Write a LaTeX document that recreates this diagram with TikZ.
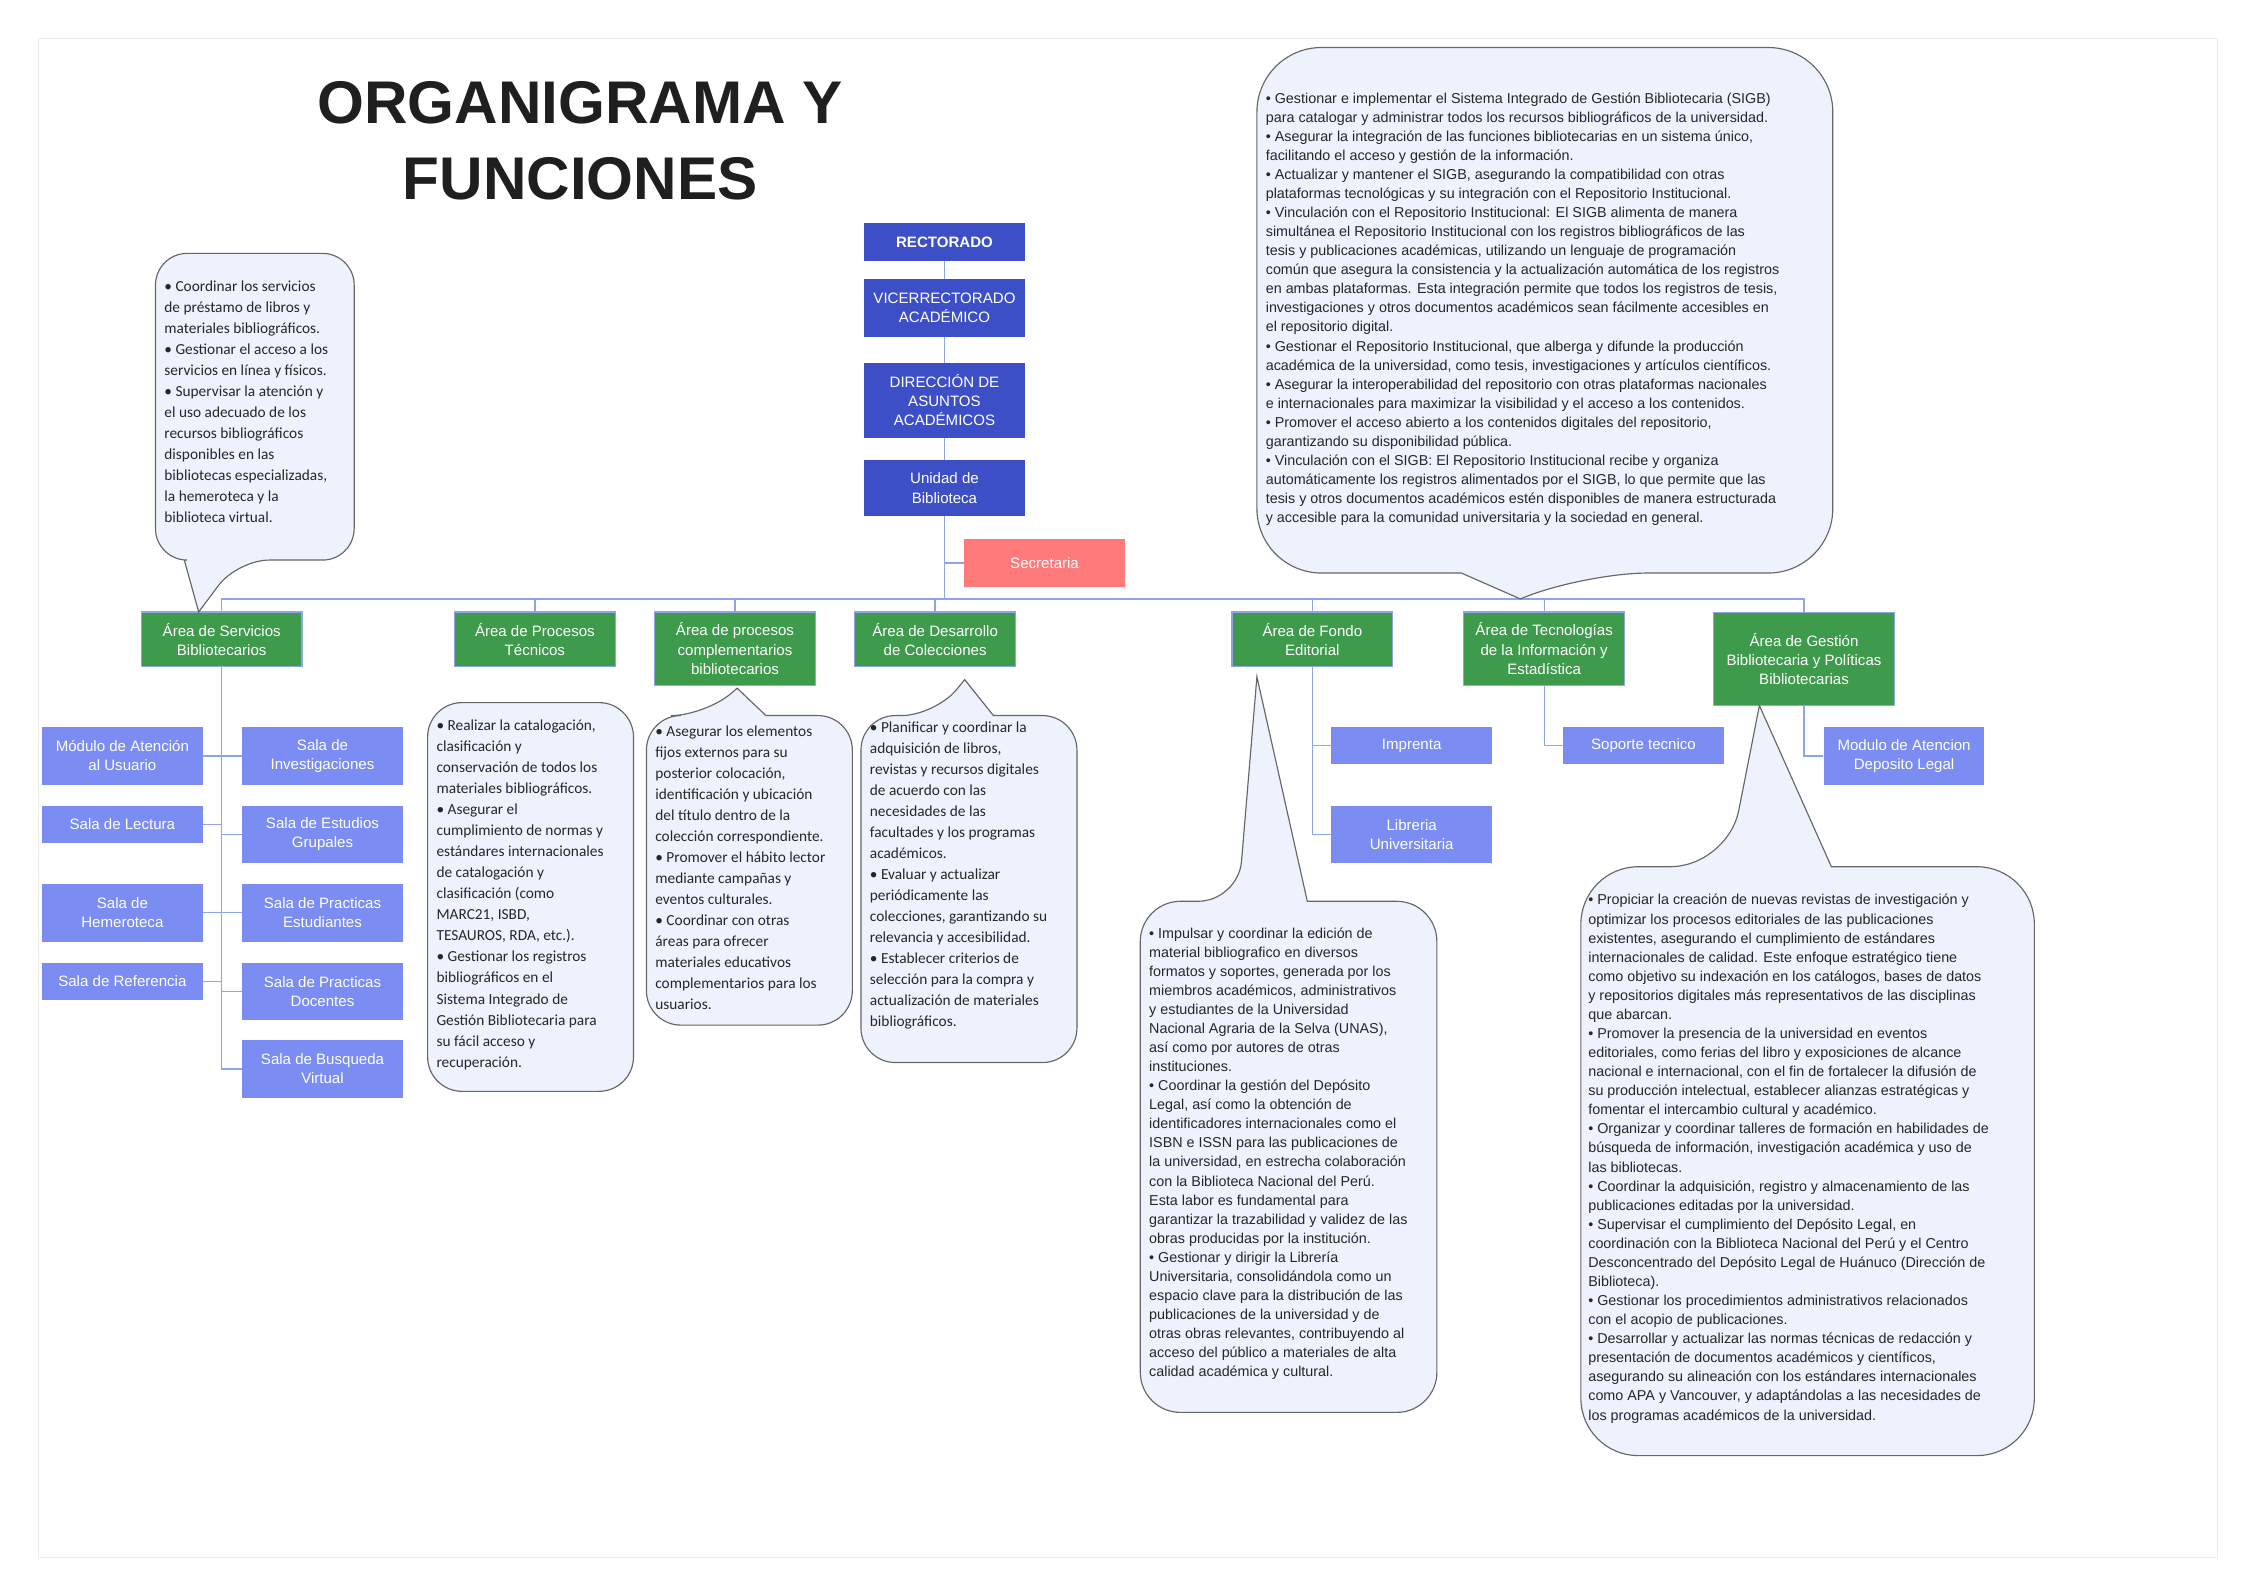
\documentclass[tikz,border=0pt]{standalone}
\usepackage{fontspec}
\setmainfont{Liberation Sans}
\newfontfamily\carl{Carlito}
\usetikzlibrary{positioning}
\definecolor{dblue}{HTML}{3D4FC7}
\definecolor{lblue}{HTML}{7B8DF2}
\definecolor{grn}{HTML}{3D9B4B}
\definecolor{conc}{HTML}{8EA6E8}
\definecolor{cofill}{HTML}{EEF2FD}
\definecolor{salmon}{HTML}{FF7B7B}
\tikzset{
  box/.style={draw=none,text=white,align=center,inner sep=1pt,minimum width=112,font={\fontsize{10.5}{13.3}\selectfont}},
  top/.style={box,fill=dblue},
  gr/.style={box,fill=grn,draw=conc,line width=0.8},
  lb/.style={box,fill=lblue},
  conn/.style={draw=conc,line width=0.9},
  co/.style={fill=cofill,draw=black!60,line width=0.8},
  cta/.style={anchor=north west,inner sep=0,align=left,text=black!85,font={\fontsize{10}{13.3}\selectfont}},
  ctc/.style={anchor=north west,inner sep=0,align=left,text=black!85,font={\carl\fontsize{10.7}{14.65}\selectfont}},
}
\begin{document}
\begin{tikzpicture}[x=1bp,y=-1bp]
\useasboundingbox (0,0) rectangle (1560,1103);
\draw[black!8,line width=0.6] (27,27) rectangle (1540,1082);
\node[font={\fontsize{42}{53}\selectfont\bfseries},text=black!88,align=center] (title) at (403,98) {ORGANIGRAMA Y\\FUNCIONES};

% top chain
\node[top,minimum height=26,font={\fontsize{10.5}{13.3}\selectfont\bfseries}] (rec) at (656,168) {RECTORADO};
\node[top,minimum height=40] (vic) at (656,214) {VICERRECTORADO\\ACADÉMICO};
\node[top,minimum height=52] (dir) at (656,278) {DIRECCIÓN DE\\ASUNTOS\\ACADÉMICOS};
\node[top,minimum height=39] (uni) at (656,339) {Unidad de\\Biblioteca};
\node[box,fill=salmon,minimum height=34] (sec) at (725.5,391) {Secretaria};
\draw[conn] (rec) -- (vic); \draw[conn] (vic) -- (dir); \draw[conn] (dir) -- (uni);
\coordinate (bus) at (656,416);
\draw[conn] (uni.south) -- (bus);
\draw[conn] (uni.south |- sec.west) -- (sec.west);

% areas
\node[gr,minimum height=38] (ser) at (154,444) {Área de Servicios\\Bibliotecarios};
\node[gr,minimum height=38] (pt) at (371.5,444) {Área de Procesos\\Técnicos};
\node[gr,minimum height=51] (pc) at (510.5,450.5) {Área de procesos\\complementarios\\bibliotecarios};
\node[gr,minimum height=38] (dc) at (649.5,444) {Área de Desarrollo\\de Colecciones};
\node[gr,minimum height=38] (fe) at (911.5,444) {Área de Fondo\\Editorial};
\node[gr,minimum height=51] (ti) at (1072.5,450.5) {Área de Tecnologías\\de la Información y\\Estadística};
\node[gr,minimum height=65,minimum width=126] (ge) at (1253,457.5) {Área de Gestión\\Bibliotecaria y Políticas\\Bibliotecarias};
\foreach \n in {ser,pt,pc,dc,fe,ti,ge} \draw[conn] (bus) -| (\n.north);

% servicios
\node[lb,minimum height=40] (mau) at (85,525) {Módulo de Atención\\al Usuario};
\node[lb,minimum height=26] (sl) at (85,572.5) {Sala de Lectura};
\node[lb,minimum height=40] (sh) at (85,634) {Sala de\\Hemeroteca};
\node[lb,minimum height=26] (sr) at (85,681.5) {Sala de Referencia};
\node[lb,minimum height=40] (si) at (224,525) {Sala de\\Investigaciones};
\node[lb,minimum height=40] (seg) at (224,579.5) {Sala de Estudios\\Grupales};
\node[lb,minimum height=40] (spe) at (224,634) {Sala de Practicas\\Estudiantes};
\node[lb,minimum height=40] (spd) at (224,688.5) {Sala de Practicas\\Docentes};
\node[lb,minimum height=40] (sbv) at (224,742.5) {Sala de Busqueda\\Virtual};
\draw[conn] (ser.south) |- (sbv.west);
\foreach \n in {mau,sl,sh,sr} \draw[conn] (\n.east) -- (\n.east -| ser.south);
\foreach \n in {si,seg,spe,spd} \draw[conn] (\n.west) -- (\n.west -| ser.south);

% fondo editorial
\node[lb,minimum height=26] (imp) at (980.5,518) {Imprenta};
\node[lb,minimum height=40] (lib) at (980.5,579.5) {Libreria\\Universitaria};
\draw[conn] (fe.south) |- (lib.west); \draw[conn] (fe.south |- imp.west) -- (imp.west);
\node[lb,minimum height=26] (sop) at (1141.5,518) {Soporte tecnico};
\draw[conn] (ti.south) |- (sop.west);
\node[lb,minimum height=40] (dep) at (1322.5,525) {Modulo de Atencion\\Deposito Legal};
\draw[conn] (ge.south) |- (dep.west);

% callouts
% A (bottom pointer)
\draw[co] (165,389) [sharp corners] -- (138,425) -- (128,389) [rounded corners=22] -- (108,389) -- (108,176) -- (246,176) -- (246,389) -- cycle;
\node[ctc] (ta) at (114,195) {• Coordinar los servicios\\de préstamo de libros y\\materiales bibliográficos.\\• Gestionar el acceso a los\\servicios en línea y físicos.\\• Supervisar la atención y\\el uso adecuado de los\\recursos bibliográficos\\disponibles en las\\bibliotecas especializadas,\\la hemeroteca y la\\biblioteca virtual.};
% B
\draw[co,rounded corners=24] (297,488) rectangle (440,758);
\node[ctc] (tb) at (303,500) {• Realizar la catalogación,\\clasificación y\\conservación de todos los\\materiales bibliográficos.\\• Asegurar el\\cumplimiento de normas y\\estándares internacionales\\de catalogación y\\clasificación (como\\MARC21, ISBD,\\TESAUROS, RDA, etc.).\\• Gestionar los registros\\bibliográficos en el\\Sistema Integrado de\\Gestión Bibliotecaria para\\su fácil acceso y\\recuperación.};
% C
\draw[co] (490,497) [sharp corners] -- (512,478) -- (532,497) [rounded corners=24] -- (592,497) -- (592,712) -- (449,712) -- (449,497) -- cycle;
\node[ctc] (tc) at (455,504) {• Asegurar los elementos\\fijos externos para su\\posterior colocación,\\identificación y ubicación\\del título dentro de la\\colección correspondiente.\\• Promover el hábito lector\\mediante campañas y\\eventos culturales.\\• Coordinar con otras\\áreas para ofrecer\\materiales educativos\\complementarios para los\\usuarios.};
% D
\draw[co] (650,497) [sharp corners] -- (670,472) -- (690,497) [rounded corners=24] -- (748,497) -- (748,738) -- (598,738) -- (598,497) -- cycle;
\node[ctc] (td) at (604,501) {• Planificar y coordinar la\\adquisición de libros,\\revistas y recursos digitales\\de acuerdo con las\\necesidades de las\\facultades y los programas\\académicos.\\• Evaluar y actualizar\\periódicamente las\\colecciones, garantizando su\\relevancia y accesibilidad.\\• Establecer criterios de\\selección para la compra y\\actualización de materiales\\bibliográficos.};
% E
\draw[co] (860,626) [sharp corners] -- (873,470) -- (908,626) [rounded corners=28] -- (998,626) -- (998,981) -- (792,981) -- (792,626) -- cycle;
\node[cta] (te) at (798,644) {• Impulsar y coordinar la edición de\\material bibliografico en diversos\\formatos y soportes, generada por los\\miembros académicos, administrativos\\y estudiantes de la Universidad\\Nacional Agraria de la Selva (UNAS),\\así como por autores de otras\\instituciones.\\• Coordinar la gestión del Depósito\\Legal, así como la obtención de\\identificadores internacionales como el\\ISBN e ISSN para las publicaciones de\\la universidad, en estrecha colaboración\\con la Biblioteca Nacional del Perú.\\Esta labor es fundamental para\\garantizar la trazabilidad y validez de las\\obras producidas por la institución.\\• Gestionar y dirigir la Librería\\Universitaria, consolidándola como un\\espacio clave para la distribución de las\\publicaciones de la universidad y de\\otras obras relevantes, contribuyendo al\\acceso del público a materiales de alta\\calidad académica y cultural.};
% F (bottom pointer)
\draw[co] (1100,398) [sharp corners] -- (1056,416) -- (1015,398) [rounded corners=45] -- (873,398) -- (873,33) -- (1273,33) -- (1273,398) -- cycle;
\node[cta] (tf) at (879,64) {• Gestionar e implementar el Sistema Integrado de Gestión Bibliotecaria (SIGB)\\para catalogar y administrar todos los recursos bibliográficos de la universidad.\\• Asegurar la integración de las funciones bibliotecarias en un sistema único,\\facilitando el acceso y gestión de la información.\\• Actualizar y mantener el SIGB, asegurando la compatibilidad con otras\\plataformas tecnológicas y su integración con el Repositorio Institucional.\\• Vinculación con el Repositorio Institucional: El SIGB alimenta de manera\\simultánea el Repositorio Institucional con los registros bibliográficos de las\\tesis y publicaciones académicas, utilizando un lenguaje de programación\\común que asegura la consistencia y la actualización automática de los registros\\en ambas plataformas. Esta integración permite que todos los registros de tesis,\\investigaciones y otros documentos académicos sean fácilmente accesibles en\\el repositorio digital.\\• Gestionar el Repositorio Institucional, que alberga y difunde la producción\\académica de la universidad, como tesis, investigaciones y artículos científicos.\\• Asegurar la interoperabilidad del repositorio con otras plataformas nacionales\\e internacionales para maximizar la visibilidad y el acceso a los contenidos.\\• Promover el acceso abierto a los contenidos digitales del repositorio,\\garantizando su disponibilidad pública.\\• Vinculación con el SIGB: El Repositorio Institucional recibe y organiza\\automáticamente los registros alimentados por el SIGB, lo que permite que las\\tesis y otros documentos académicos estén disponibles de manera estructurada\\y accesible para la comunidad universitaria y la sociedad en general.};
% G
\draw[co] (1200,602) [sharp corners] -- (1222,490) -- (1272,602) [rounded corners=40] -- (1413,602) -- (1413,1011) -- (1098,1011) -- (1098,602) -- cycle;
\node[cta] (tg) at (1103,621) {• Propiciar la creación de nuevas revistas de investigación y\\optimizar los procesos editoriales de las publicaciones\\existentes, asegurando el cumplimiento de estándares\\internacionales de calidad. Este enfoque estratégico tiene\\como objetivo su indexación en los catálogos, bases de datos\\y repositorios digitales más representativos de las disciplinas\\que abarcan.\\• Promover la presencia de la universidad en eventos\\editoriales, como ferias del libro y exposiciones de alcance\\nacional e internacional, con el fin de fortalecer la difusión de\\su producción intelectual, establecer alianzas estratégicas y\\fomentar el intercambio cultural y académico.\\• Organizar y coordinar talleres de formación en habilidades de\\búsqueda de información, investigación académica y uso de\\las bibliotecas.\\• Coordinar la adquisición, registro y almacenamiento de las\\publicaciones editadas por la universidad.\\• Supervisar el cumplimiento del Depósito Legal, en\\coordinación con la Biblioteca Nacional del Perú y el Centro\\Desconcentrado del Depósito Legal de Huánuco (Dirección de\\Biblioteca).\\• Gestionar los procedimientos administrativos relacionados\\con el acopio de publicaciones.\\• Desarrollar y actualizar las normas técnicas de redacción y\\presentación de documentos académicos y científicos,\\asegurando su alineación con los estándares internacionales\\como APA y Vancouver, y adaptándolas a las necesidades de\\los programas académicos de la universidad.};
\end{tikzpicture}
\end{document}
